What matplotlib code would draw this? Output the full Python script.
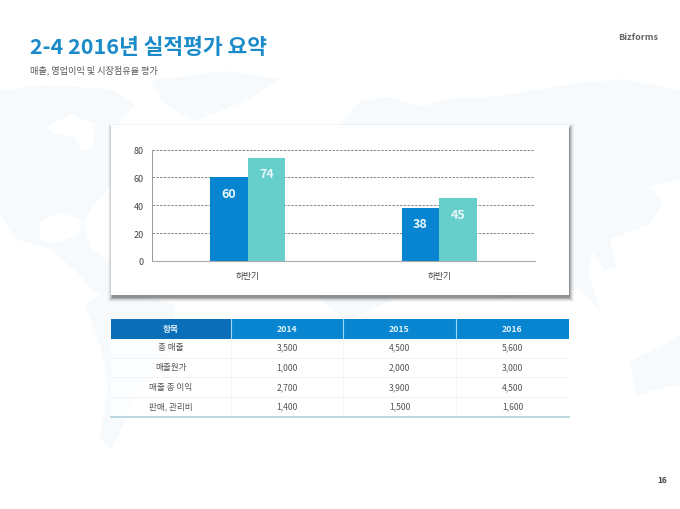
import numpy as np
import matplotlib
matplotlib.use("Agg")
import matplotlib.pyplot as plt
from matplotlib.patches import Rectangle, Polygon

plt.rcParams['font.family'] = ['Noto Sans CJK KR', 'DejaVu Sans']

categories = ['하반기', '하반기']
series_a = [60, 38]
series_b = [74, 45]
yticks = [0, 20, 40, 60, 80]

table_header = ['항목', '2014', '2015', '2016']
row_names = ['총 매출', '매출원가', '매출 총 이익', '판매, 관리비']
values_2014 = ['3,500', '1,000', '2,700', '1,400']
values_2015 = ['4,500', '2,000', '3,900', '1,500']
values_2016 = ['5,600', '3,000', '4,500', '1,600']

BLUE = '#0785d0'
TEAL = '#66cfcb'
W, H = 680, 510

fig = plt.figure(figsize=(6.8, 5.1), dpi=100, facecolor='white')

# page layer in pixel coords
bg = fig.add_axes([0, 0, 1, 1])
bg.set_xlim(0, W)
bg.set_ylim(H, 0)
bg.axis('off')

# faint world map behind everything, white blobs are the bays
land = [
    # north + central america
    [(0, 92), (40, 86), (110, 90), (135, 105), (118, 125), (112, 185), (95, 205), (84, 222), (90, 250),
     (110, 262), (110, 300), (92, 290), (76, 272), (50, 250), (15, 240), (0, 215)],
    # greenland
    [(150, 82), (225, 72), (280, 80), (245, 102), (195, 122), (165, 105)],
    # south america
    [(85, 305), (110, 290), (175, 305), (170, 355), (135, 400), (112, 450), (100, 440), (108, 385), (100, 345)],
    # africa
    [(300, 190), (385, 180), (412, 230), (395, 300), (345, 322), (320, 300), (300, 250)],
    # eurasia
    [(340, 125), (360, 102), (390, 98), (420, 108), (450, 100), (500, 97), (570, 85), (625, 80), (680, 92),
     (680, 180), (650, 188), (662, 205), (650, 225), (610, 240), (616, 268), (604, 272), (592, 252),
     (588, 272), (600, 312), (580, 290), (500, 300), (450, 250), (400, 200), (345, 165)],
    # australia
    [(630, 362), (660, 348), (680, 335), (680, 385), (636, 396)],
]
for pts in land:
    bg.add_patch(Polygon(pts, closed=True, fc='#f6fafd', ec='none', zorder=0))
bays = [
    [(47, 128), (70, 115), (95, 125), (92, 150), (82, 152), (75, 138), (55, 135)],
    [(40, 222), (60, 213), (82, 222), (78, 236), (55, 245), (40, 240)],
]
for pts in bays:
    bg.add_patch(Polygon(pts, closed=True, fc='white', ec='none', zorder=0))

bg.text(30, 47, '2-4 2016년 실적평가 요약', fontsize=15.5, fontweight='bold',
        color='#1a8bc8', va='center', ha='left')
bg.text(30, 70, '매출, 영업이익 및 시장점유율 평가', fontsize=6.6, color='#555555',
        va='center', ha='left')
bg.text(638, 38, 'Bizforms', fontsize=6.5, fontweight='bold', color='#666666',
        va='center', ha='center')
bg.text(662, 481, '16', fontsize=6, fontweight='bold', color='#444444',
        va='center', ha='center')

# card with soft shadow
for grow, alpha in [(4, 0.04), (3, 0.07), (2, 0.1), (1, 0.16), (0, 0.24)]:
    bg.add_patch(Rectangle((111 + 1 - grow, 126 + 3 - grow), 458 + 2 * grow, 170 + 2 * grow,
                           fc='#222222', ec='none', alpha=alpha, zorder=1))
bg.add_patch(Rectangle((111, 126), 458, 170, fc='white', ec='none', zorder=2))

# table
col_edges = [111, 231, 343, 456, 569]
row_edges = [340, 359, 378, 398, 417]
row_text_y = [347.5, 367.5, 387.5, 407]
columns = [row_names, values_2014, values_2015, values_2016]
bg.add_patch(Rectangle((111, 340), 458, 77, fc='white', ec='none', alpha=0.75, zorder=1))
for i, label in enumerate(table_header):
    x0, x1 = col_edges[i], col_edges[i + 1]
    bg.add_patch(Rectangle((x0, 320), x1 - x0, 20, fc='#0a6fb8' if i == 0 else BLUE, ec='none', zorder=2))
    bg.text((x0 + x1) / 2, 330, label, color='#dff1fb', fontsize=6.3, fontweight='bold',
            ha='center', va='center', zorder=3)
    if i > 0:
        bg.plot([x0, x0], [320, 340], color='#9fd3f0', lw=0.8, zorder=3)
        bg.plot([x0, x0], [340, 417], color='#f2f5f7', lw=0.6, zorder=3)
    for j, txt in enumerate(columns[i]):
        bg.text((x0 + x1) / 2, row_text_y[j], txt, color='#555555', fontsize=6.2,
                ha='center', va='center', zorder=3)
for y in row_edges[1:-1]:
    bg.plot([111, 569], [y, y], color='#eef1f3', lw=0.6, zorder=3)
bg.plot([111, 569], [417.5, 417.5], color='#b5d6dd', lw=1.3, zorder=3)

# chart
ax = fig.add_axes([152 / W, 1 - 262 / H, 383 / W, 111.5 / H], facecolor='none')
x = np.arange(len(categories))
bar_w = 0.196
bars_a = ax.bar(x - bar_w / 2, series_a, bar_w, color=BLUE, zorder=3)
bars_b = ax.bar(x + bar_w / 2, series_b, bar_w, color=TEAL, zorder=3)
for bars in (bars_a, bars_b):
    for b in bars:
        h = b.get_height()
        ax.text(b.get_x() + b.get_width() / 2, h - 11.3, f'{h:g}', color='#eaf8fb', fontsize=9,
                fontweight='bold', ha='center', va='center', zorder=4)

ax.set_xlim(-0.5, 1.5)
ax.set_ylim(0, 80)
ax.set_yticks(yticks)
ax.set_xticks(x)
ax.set_xticklabels(categories)
ax.tick_params(axis='y', length=0, labelsize=6.5, labelcolor='#444444', pad=6)
ax.tick_params(axis='x', length=0, labelsize=6.3, labelcolor='#444444', pad=7)
ax.yaxis.grid(True, color='#777777', lw=0.6, ls=(0, (3, 1.5)), zorder=1)
ax.set_axisbelow(True)
for side in ('top', 'right'):
    ax.spines[side].set_visible(False)
ax.spines['left'].set_color('#999999')
ax.spines['left'].set_linewidth(0.7)
ax.spines['bottom'].set_color('#aaaaaa')
ax.spines['bottom'].set_linewidth(0.8)

fig.savefig('out.png', dpi=100)
